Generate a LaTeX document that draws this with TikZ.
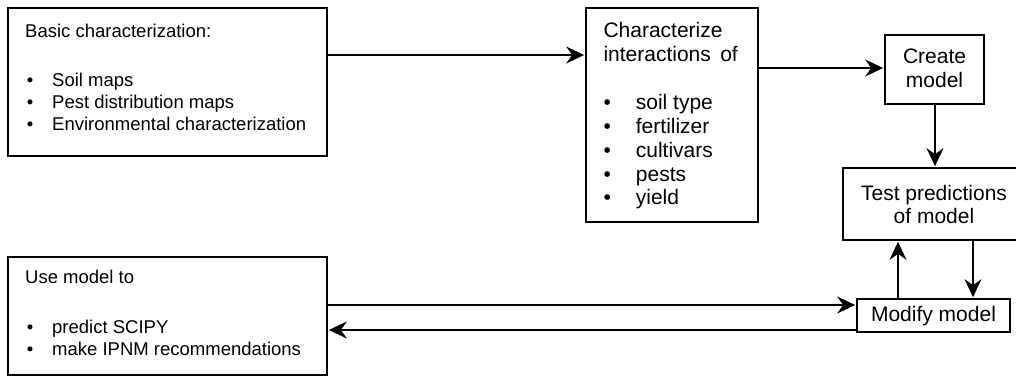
\documentclass[tikz,border=0pt]{standalone}
\usepackage{fontspec}
\setmainfont{Liberation Sans}
\usetikzlibrary{arrows.meta}
\begin{document}
\begin{tikzpicture}[x=1pt,y=-1pt,
  box/.style={draw=black,line width=1.7pt,rectangle,inner sep=0pt,fill=none},
  lt/.style={anchor=base west,inner sep=0pt,font=\fontsize{18.5}{22}\selectfont},
  lb/.style={anchor=base,inner sep=0pt,font=\fontsize{18.5}{22}\selectfont},
  rt/.style={anchor=base west,inner sep=0pt,font=\fontsize{21}{24}\selectfont},
  rb/.style={anchor=base,inner sep=0pt,font=\fontsize{21}{24}\selectfont},
  arr/.style={line width=1.3pt,shorten >=1pt,-{Stealth[length=18pt,width=17pt,inset=6pt]}}]
\useasboundingbox (0,0) rectangle (1016,377);
% boxes
\node[box,minimum width=319pt,minimum height=148pt] (A) at (167.5,82) {};
\node[box,minimum width=172pt,minimum height=214pt] (B) at (672,115) {};
\node[box,minimum width=99pt,minimum height=69pt] (C) at (934.5,69.5) {};
\node[box,minimum width=175pt,minimum height=72pt] (D) at (930.5,204) {};
\node[box,minimum width=153pt,minimum height=33pt] (E) at (933.5,315.5) {};
\node[box,minimum width=319pt,minimum height=118pt] (F) at (167.5,316) {};
% texts box A
\node[lt] (a0) at (25,37.7) {Basic characterization:};
\node[lb] (a1b) at (30,87) {•};
\node[lt] (a1) at (52,87) {Soil maps};
\node[lb] (a2b) at (30,109) {•};
\node[lt] (a2) at (52,109) {Pest distribution maps};
\node[lb] (a3b) at (30,131) {•};
\node[lt] (a3) at (52,131) {Environmental characterization};
% texts box B
\node[rt] (b0) at (603.3,37.3) {Characterize};
\node[rt] (b1) at (603.3,61.7) {interactions\hspace{0.45em}of};
\node[rb] (b2b) at (607.3,110) {•};
\node[rt] (b2) at (635.7,110) {soil type};
\node[rb] (b3b) at (607.3,133.7) {•};
\node[rt] (b3) at (635.7,133.7) {fertilizer};
\node[rb] (b4b) at (607.3,157.4) {•};
\node[rt] (b4) at (635.7,157.4) {cultivars};
\node[rb] (b5b) at (607.3,181.1) {•};
\node[rt] (b5) at (635.7,181.1) {pests};
\node[rb] (b6b) at (607.3,204.8) {•};
\node[rt] (b6) at (635.7,204.8) {yield};
% texts C, D, E
\node[rb] (c0) at (934.5,63.3) {Create};
\node[rb] (c1) at (934.5,87.3) {model};
\node[rb] (d0) at (934,200) {Test predictions};
\node[rb] (d1) at (934,223.3) {of model};
\node[rb] (e0) at (933.5,321.7) {Modify model};
% texts F
\node[lt] (f0) at (25,283.3) {Use model to};
\node[lb] (f1b) at (30,333.3) {•};
\node[lt] (f1) at (52,333.3) {predict SCIPY};
\node[lb] (f2b) at (30,355) {•};
\node[lt] (f2) at (52,355) {make IPNM recommendations};
% helper coordinates
\coordinate (yab) at (0,55);
\coordinate (ybc) at (0,68);
\coordinate (xcd) at (935,0);
\coordinate (xde) at (973,0);
\coordinate (xed) at (898,0);
\coordinate (yfe) at (0,305);
\coordinate (yef) at (0,330);
% connectors
\draw[arr] (A.east |- yab) -- (B.west |- yab);
\draw[arr] (B.east |- ybc) -- (C.west |- ybc);
\draw[arr] (C.south -| xcd) -- (D.north -| xcd);
\draw[arr] (D.south -| xde) -- (E.north -| xde);
\draw[arr] (E.north -| xed) -- (D.south -| xed);
\draw[arr] (F.east |- yfe) -- (E.west |- yfe);
\draw[arr] (E.west |- yef) -- (F.east |- yef);
\end{tikzpicture}
\end{document}
